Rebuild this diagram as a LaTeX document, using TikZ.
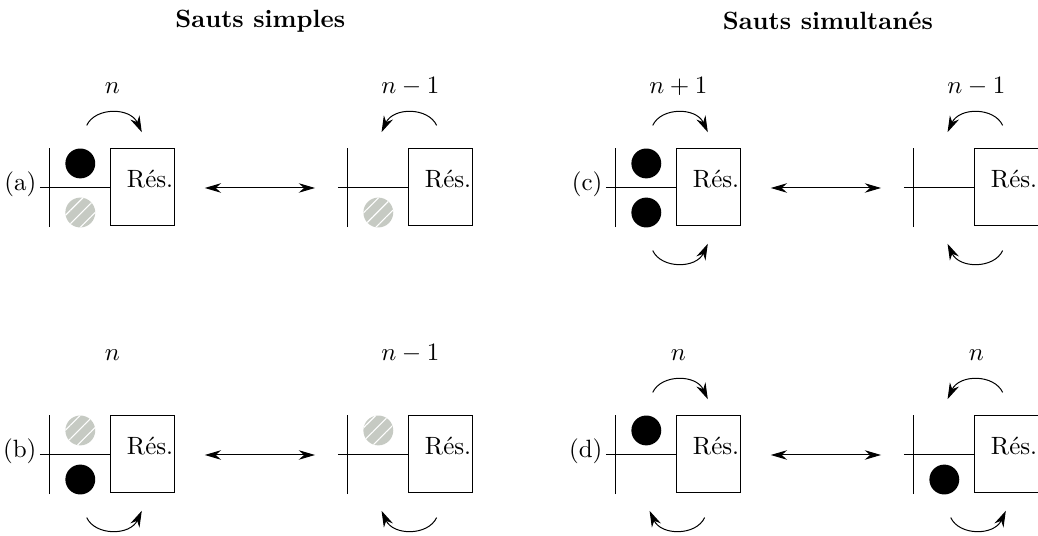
\documentclass[tikz,border=0pt]{standalone}
\usepackage{fontspec}
\usetikzlibrary{arrows.meta,patterns.meta}
\definecolor{gris}{RGB}{198,202,195}
\tikzset{
	saut/.style={-{Stealth[length=6.5pt,width=4pt]}, shorten >=-3pt},
	echange/.style={{Stealth[length=6.5pt,width=3.8pt]}-{Stealth[length=6.5pt,width=3.8pt]}},
	etiquette/.style={anchor=base, inner sep=0pt},
	hachure/.style={pattern={Lines[angle=45,distance=3.8pt,line width=0.45pt]}, pattern color=white},
}
\begin{document}
\begin{tikzpicture}[thin]
	\useasboundingbox (-0.689,-4.893) rectangle (13.905,2.643);
	\def\rayon{0.21cm}
	\def\courbe{65}
	\node[font=\bfseries] (simples) at (2.97,2.35) {Sauts simples};
	\node[font=\bfseries] (simultanes) at (10.95,2.35) {Sauts simultanés};

	% site, reservoir et points de depart des sauts
	\foreach \nom/\x/\y in {a1/0/0, a2/4.19/0, b1/0/-3.754, b2/4.19/-3.754,
		c1/7.958/0, c2/12.148/0, d1/7.958/-3.754, d2/12.148/-3.754}{%
		\begin{scope}[shift={(\x,\y)}]
			\coordinate (\nom) at (0,0);
			\draw (0,-0.55) -- (0,0.56);
			\draw (-0.13,0) -- (0.87,0);
			\draw (0.87,-0.53) rectangle (1.77,0.56);
			\node[etiquette] (\nom-res) at (1.42,0) {Rés.};
			\coordinate (\nom-s1) at (0.44,0.345);
			\coordinate (\nom-s2) at (0.44,-0.345);
			\coordinate (\nom-hg) at (0.53,0.88);
			\coordinate (\nom-hd) at (1.26,0.88);
			\coordinate (\nom-bg) at (0.53,-0.88);
			\coordinate (\nom-bd) at (1.26,-0.88);
			\coordinate (\nom-eg) at (2.19,0);
			\coordinate (\nom-ed) at (3.74,0);
		\end{scope}
	}
	\foreach \nom in {a,b,c,d}{%
		\node[anchor=base east, inner sep=0pt] (lettre-\nom) at ([shift={(-0.17,-0.04)}]\nom1) {(\nom)};
		\draw[echange] (\nom1-eg) -- (\nom1-ed);
	}
	\foreach \nom/\lab in {a1/n, a2/n-1, b1/n, b2/n-1, c1/n+1, c2/n-1, d1/n, d2/n}{%
		\node[etiquette] (\nom-n) at ([shift={(0.89,1.33)}]\nom) {$\lab$};
	}

	% particules
	\foreach \s in {a1-s1, b1-s2, c1-s1, c1-s2, d1-s1, d2-s2}{%
		\fill (\s) circle (\rayon);
	}
	\foreach \s in {a1-s2, a2-s2, b1-s1, b2-s1}{%
		\fill[gris] (\s) circle (\rayon);
		\fill[hachure] (\s) circle (\rayon);
	}

	% sauts
	\draw[saut] (a1-hg) to[bend left=\courbe] (a1-hd);
	\draw[saut] (a2-hd) to[bend right=\courbe] (a2-hg);
	\draw[saut] (b1-bg) to[bend right=\courbe] (b1-bd);
	\draw[saut] (b2-bd) to[bend left=\courbe] (b2-bg);
	\draw[saut] (c1-hg) to[bend left=\courbe] (c1-hd);
	\draw[saut] (c1-bg) to[bend right=\courbe] (c1-bd);
	\draw[saut] (c2-hd) to[bend right=\courbe] (c2-hg);
	\draw[saut] (c2-bd) to[bend left=\courbe] (c2-bg);
	\draw[saut] (d1-hg) to[bend left=\courbe] (d1-hd);
	\draw[saut] (d1-bd) to[bend left=\courbe] (d1-bg);
	\draw[saut] (d2-hd) to[bend right=\courbe] (d2-hg);
	\draw[saut] (d2-bg) to[bend right=\courbe] (d2-bd);
\end{tikzpicture}
\end{document}
